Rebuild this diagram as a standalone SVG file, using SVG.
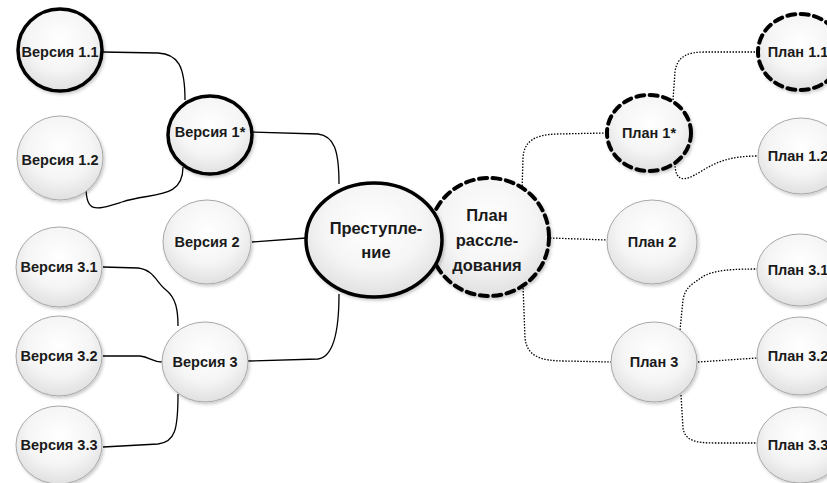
<svg xmlns="http://www.w3.org/2000/svg" width="827" height="483" viewBox="0 0 827 483">
  <defs>
    <radialGradient id="fill" cx="50%" cy="38%" r="62%">
      <stop offset="0" stop-color="#ffffff"/>
      <stop offset="0.6" stop-color="#f5f5f5"/>
      <stop offset="1" stop-color="#e0e0e0"/>
    </radialGradient>
    <filter id="shadow" x="-20%" y="-20%" width="150%" height="150%">
      <feDropShadow dx="1.5" dy="2" stdDeviation="1.5" flood-color="#000" flood-opacity="0.2"/>
    </filter>
  </defs>
  <style>
    .node ellipse { fill: url(#fill); filter: url(#shadow); }
    .plain ellipse { stroke: #a8a8a8; stroke-width: 1; }
    .bold ellipse { stroke: #000; stroke-width: 3.5; }
    .dash ellipse { stroke: #000; stroke-width: 4; stroke-dasharray: 8 5.5; stroke-linecap: round; }
    text { font-family: "Liberation Sans", Arial, sans-serif; font-weight: bold; font-size: 14.5px; fill: #1a1a1a; text-anchor: middle; dominant-baseline: central; }
    .big { font-size: 16.5px; }
    .links path { fill: none; stroke: #000; }
    .solid path { stroke-width: 1.3; }
    .dotted path { stroke-width: 1.3; stroke-dasharray: 1.5 1.5; }
  </style>

  <!-- connectors -->
  <g id="connectors" class="links">
    <g class="solid">
      <path d="M103,52 L158,53 C178,54 185,66 185,100"/>
      <path d="M86,187 C86,214 96,210 122,202 C152,192 183,200 183,167"/>
      <path d="M252,132 L318,134 C334,136 339,150 339,184"/>
      <path d="M252,242 L306,238"/>
      <path d="M248,361 L318,359 C334,357 339,330 339,294"/>
      <path d="M103,267 L138,268 C154,270 156,282 166,290 C176,298 178,310 178,326"/>
      <path d="M103,356 L140,356 C150,357 152,362 162,362"/>
      <path d="M103,447 L158,444 C175,442 178,430 178,394"/>
    </g>
    <g class="dotted">
      <path d="M522,192 L523,158 C524,140 536,135 556,134 L606,133"/>
      <path d="M673,100 L675,72 C677,56 688,52 705,52 L757,52"/>
      <path d="M675,163 C675,182 684,182 700,172 C716,162 730,156 758,156"/>
      <path d="M550,238 L607,240"/>
      <path d="M523,285 L525,338 C527,356 540,361 565,361 L611,362"/>
      <path d="M680,330 L683,300 C685,288 692,284 698,280 C708,272 720,269 757,269"/>
      <path d="M698,362 L757,358"/>
      <path d="M681,395 L683,428 C685,440 694,443 715,443 L757,443"/>
    </g>
  </g>

  <!-- left branch: versions -->
  <g id="v1_1" class="node bold"><ellipse cx="60" cy="50" rx="42" ry="41"/><text x="60" y="52">Версия 1.1</text></g>
  <g id="v1_2" class="node plain"><ellipse cx="60" cy="158" rx="43" ry="42"/><text x="60" y="160">Версия 1.2</text></g>
  <g id="v1" class="node bold"><ellipse cx="210" cy="135" rx="42" ry="39"/><text x="210" y="132">Версия 1*</text></g>
  <g id="v2" class="node plain"><ellipse cx="207" cy="242" rx="44" ry="42"/><text x="207" y="242">Версия 2</text></g>
  <g id="v3_1" class="node plain"><ellipse cx="59" cy="267" rx="43" ry="40"/><text x="59" y="267">Версия 3.1</text></g>
  <g id="v3_2" class="node plain"><ellipse cx="59" cy="356" rx="43" ry="40"/><text x="59" y="356">Версия 3.2</text></g>
  <g id="v3_3" class="node plain"><ellipse cx="59" cy="445" rx="43" ry="39"/><text x="59" y="445">Версия 3.3</text></g>
  <g id="v3" class="node plain"><ellipse cx="205" cy="362" rx="43" ry="40"/><text x="205" y="362">Версия 3</text></g>

  <!-- centre -->
  <g id="plan" class="node dash"><ellipse cx="489" cy="237" rx="60" ry="59"/>
    <text class="big" x="487" y="215">План</text>
    <text class="big" x="487" y="240">рассле-</text>
    <text class="big" x="487" y="265">дования</text>
  </g>
  <g id="crime" class="node bold"><ellipse cx="374" cy="240" rx="68" ry="57"/>
    <text class="big" x="376" y="228">Преступле-</text>
    <text class="big" x="376" y="252">ние</text>
  </g>

  <!-- right branch: plans -->
  <g id="p1" class="node dash"><ellipse cx="649" cy="133" rx="42" ry="38"/><text x="649" y="133">План 1*</text></g>
  <g id="p1_1" class="node dash"><ellipse cx="800" cy="52" rx="42" ry="38"/><text x="798" y="52">План 1.1</text></g>
  <g id="p1_2" class="node plain"><ellipse cx="801" cy="156" rx="43" ry="38"/><text x="798" y="156">План 1.2</text></g>
  <g id="p2" class="node plain"><ellipse cx="652" cy="242" rx="45" ry="42"/><text x="652" y="242">План 2</text></g>
  <g id="p3" class="node plain"><ellipse cx="654" cy="362" rx="43" ry="40"/><text x="654" y="362">План 3</text></g>
  <g id="p3_1" class="node plain"><ellipse cx="800" cy="270" rx="43" ry="36"/><text x="798" y="270">План 3.1</text></g>
  <g id="p3_2" class="node plain"><ellipse cx="800" cy="356" rx="43" ry="39"/><text x="798" y="356">План 3.2</text></g>
  <g id="p3_3" class="node plain"><ellipse cx="800" cy="445" rx="43" ry="38"/><text x="798" y="445">План 3.3</text></g>
</svg>
